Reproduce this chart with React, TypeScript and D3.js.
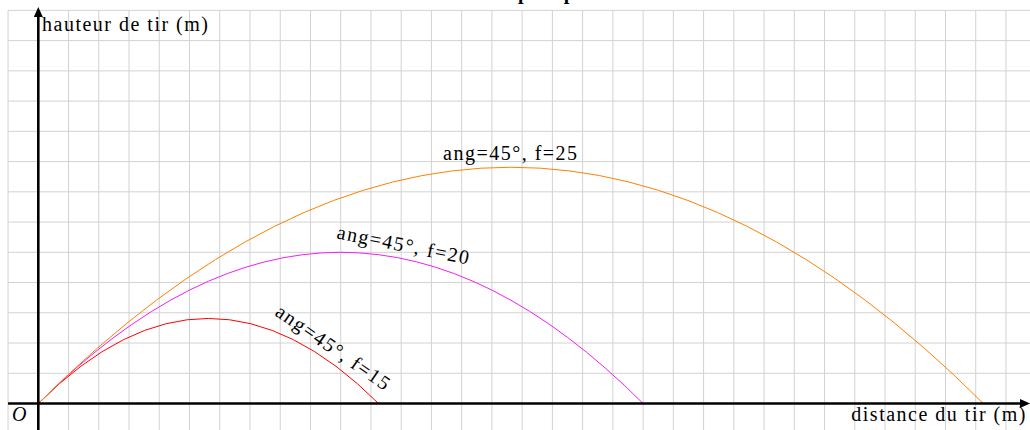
import React from "react";
import * as d3 from "d3";

// Trajectories (angle 45°)
const FORCES = [15, 20, 25];
const RANGES = [22.5, 40, 62.5]; // landing distance (m)
const HEIGHTS = [5.625, 10, 15.625]; // peak height (m)
const COLORS = ["#ff0000", "#f020f0", "#ff8000"];
const LABEL_T = [0.845, 0.6, 0.5];

const X_GRID = d3.range(-2, 68, 2);
const Y_GRID = d3.range(-2, 28, 2);

const W = 1030;
const H = 430;
const OX = 38.3;
const OY = 403.5;
const K = 15.12;
const FONT = "'Liberation Serif', 'Times New Roman', serif";
const FS = 20;
const LS = 1.5;

export default function App() {
  const x = d3.scaleLinear().domain([0, 1]).range([OX, OX + K]);
  const y = d3.scaleLinear().domain([0, 1]).range([OY, OY - K]);

  const gridTop = y(26);
  const gridLeft = x(-2);

  const curves = FORCES.map((f, i) => {
    const R = RANGES[i];
    const Hh = HEIGHTS[i];
    const p = d3.path();
    p.moveTo(x(0), y(0));
    p.quadraticCurveTo(x(R / 2), y(2 * Hh), x(R), y(0));
    const t = LABEL_T[i];
    const lx = t * R;
    const ly = 4 * Hh * t * (1 - t);
    const slope = (4 * Hh / R) * (1 - 2 * t);
    const ang = (-Math.atan(slope) * 180) / Math.PI;
    return { f, i, d: p.toString(), px: x(lx), py: y(ly), ang };
  });

  return (
    <svg
      width={W}
      height={H}
      style={{ position: "absolute", left: 0, top: 0, background: "#fff" }}
    >
      <text
        x={505}
        y={-1}
        textAnchor="middle"
        fontFamily={FONT}
        fontWeight="bold"
        fontSize={20}
      >
        Simulation de tirs à 45° pour plusieurs forces
      </text>
      <g stroke="#d2d2d2" strokeWidth={1}>
        {X_GRID.map((v) => (
          <line key={"gx" + v} x1={x(v)} x2={x(v)} y1={gridTop} y2={H} />
        ))}
        {Y_GRID.map((v) => (
          <line key={"gy" + v} x1={gridLeft} x2={W} y1={y(v)} y2={y(v)} />
        ))}
      </g>
      {curves.map((c) => (
        <path key={"c" + c.i} d={c.d} fill="none" stroke={COLORS[c.i]} strokeWidth={1} />
      ))}
      {/* axes */}
      <line x1={gridLeft} x2={W - 6} y1={OY} y2={OY} stroke="#000" strokeWidth={2.6} />
      <line x1={OX} x2={OX} y1={H} y2={14} stroke="#000" strokeWidth={2.6} />
      <path d={`M${OX - 4.5},${17} L${OX},${7} L${OX + 4.5},${17} Z`} fill="#000" />
      <path d={`M${W - 10},${OY - 4.5} L${W},${OY} L${W - 10},${OY + 4.5} Z`} fill="#000" />
      <text x={42} y={31} fontFamily={FONT} fontSize={FS} letterSpacing={LS}>
        hauteur de tir (m)
      </text>
      <text x={1027} y={421} textAnchor="end" fontFamily={FONT} fontSize={FS} letterSpacing={LS}>
        distance du tir (m)
      </text>
      <text x={12} y={421} fontFamily={FONT} fontSize={FS} fontStyle="italic">
        O
      </text>
      {curves.map((c) => (
        <g key={"l" + c.i} transform={`translate(${c.px},${c.py}) rotate(${c.ang})`}>
          <text x={0} y={-7} textAnchor="middle" fontFamily={FONT} fontSize={FS} letterSpacing={LS}>
            ang=45°, f={c.f}
          </text>
        </g>
      ))}
    </svg>
  );
}
